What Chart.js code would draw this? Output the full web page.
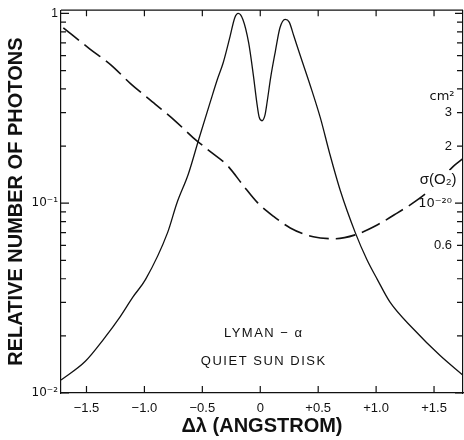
<!DOCTYPE html>
<html><head><meta charset="utf-8">
<script src="https://cdn.jsdelivr.net/npm/chart.js@4/dist/chart.umd.min.js"></script>
<style>html,body{margin:0;padding:0;background:#fff;}</style>
</head><body>
<canvas id="c" width="464" height="440"></canvas>
<script>
// Lyman-alpha line profile (relative number of photons) vs Δλ (Å)
const profileX = [-1.72,-1.51,-1.35,-1.21,-1.10,-0.99,-0.80,-0.72,-0.62,-0.53,-0.43,-0.37,-0.32,-0.26,-0.22,-0.19,-0.15,-0.10,-0.06,-0.03,-0.01,0.015,0.04,0.06,0.09,0.13,0.17,0.215,0.25,0.29,0.345,0.43,0.52,0.60,0.69,0.82,0.92,1.01,1.12,1.32,1.55,1.75];
const profileY = [0.0117,0.0147,0.0193,0.0252,0.032,0.0397,0.070,0.100,0.143,0.218,0.344,0.45,0.55,0.76,0.95,1.0,0.93,0.70,0.475,0.34,0.285,0.272,0.29,0.344,0.46,0.63,0.84,0.93,0.90,0.76,0.60,0.42,0.28,0.182,0.117,0.070,0.0505,0.0397,0.0301,0.0218,0.0158,0.0124];
// O2 absorption cross section, units of 1e-20 cm^2
const sigmaX = [-1.70,-1.47,-1.29,-1.12,-0.905,-0.733,-0.578,-0.431,-0.284,-0.147,-0.026,0.112,0.259,0.457,0.647,0.819,1.009,1.181,1.353,1.509,1.664,1.75];
const sigmaY = [8.4,6.49,5.36,4.27,3.32,2.71,2.21,1.87,1.58,1.24,1.01,0.855,0.741,0.665,0.650,0.681,0.768,0.887,1.037,1.24,1.56,1.72];
const xTickValues = [-1.5,-1.0,-0.5,0,0.5,1.0,1.5];
const xTickLabels = ['−1.5','−1.0','−0.5','0','+0.5','+1.0','+1.5'];
const leftTickValues = [0.01,0.1,1];
const leftTickLabels = ['10⁻²','10⁻¹','1'];
const rightTickValues = [0.6,1,2,3];
const rightTickLabels = ['0.6','10⁻²⁰','2','3'];

const INK = '#111';
const FONT = '"Liberation Sans", Arial, sans-serif';
const SUPFONT = '"DejaVu Sans", sans-serif';
function lookup(vals, labels, v){ for(let i=0;i<vals.length;i++){ if(Math.abs(vals[i]-v) < 1e-9) return labels[i]; } return ''; }
function hasSup(s){ return /[⁻⁰¹²³]/.test(s); }

const frame = {
  id: 'frame',
  afterDatasetsDraw(chart){
    const {ctx, scales} = chart;
    const x = scales.x, y = scales.y, y2 = scales.y2;
    ctx.save();
    ctx.fillStyle = INK;
    ctx.textAlign = 'center';
    ctx.textBaseline = 'middle';
    ctx.font = '13px ' + FONT;
    ctx.letterSpacing = '1.5px';
    ctx.fillText('LYMAN − α', x.getPixelForValue(0.03), y.getPixelForValue(0.0205));
    ctx.fillText('QUIET SUN DISK', x.getPixelForValue(0.03), y.getPixelForValue(0.0147));
    ctx.letterSpacing = '0px';
    // sigma label with white backing (line is broken behind it)
    ctx.font = '15px ' + FONT;
    const sx = x.getPixelForValue(1.535), sy = y2.getPixelForValue(1.32);
    const w = ctx.measureText('σ(O₂)').width;
    ctx.fillStyle = '#fff';
    ctx.fillRect(sx - w/2 - 2, sy - 10, w + 4, 20);
    ctx.fillStyle = INK;
    ctx.fillText('σ(O₂)', sx, sy);
    ctx.font = '13px ' + SUPFONT;
    ctx.fillText('cm²', x.getPixelForValue(1.569), y2.getPixelForValue(3.65));
    ctx.restore();
  },
  afterDraw(chart){
    const {ctx, chartArea: a, scales} = chart;
    ctx.save();
    ctx.strokeStyle = INK;
    ctx.lineWidth = 1.2;
    ctx.beginPath();
    ctx.moveTo(a.left, a.top); ctx.lineTo(a.right, a.top);
    xTickValues.forEach(v => {
      const px = scales.x.getPixelForValue(v);
      ctx.moveTo(px, a.bottom); ctx.lineTo(px, a.bottom - 7);
      ctx.moveTo(px, a.top); ctx.lineTo(px, a.top + 6);
    });
    [0.01, 0.1].forEach(d => {
      for (let k = 1; k <= 9; k++) {
        const py = scales.y.getPixelForValue(k * d);
        ctx.moveTo(a.left, py); ctx.lineTo(a.left + (k === 1 ? 8 : 5), py);
      }
    });
    const p1 = scales.y.getPixelForValue(1);
    ctx.moveTo(a.left, p1); ctx.lineTo(a.left + 8, p1);
    [0.1, 1].forEach(d => {
      for (let k = 1; k <= 9; k++) {
        const py = scales.y2.getPixelForValue(k * d);
        ctx.moveTo(a.right, py); ctx.lineTo(a.right - (k === 1 ? 8 : 6), py);
      }
    });
    const p10 = scales.y2.getPixelForValue(10);
    ctx.moveTo(a.right, p10); ctx.lineTo(a.right - 8, p10);
    ctx.stroke();
    ctx.restore();
  }
};

new Chart(document.getElementById('c'), {
  type: 'line',
  data: {
    datasets: [
      {
        label: 'Lyman-α profile',
        data: profileX.map((v, i) => ({x: v, y: profileY[i]})),
        yAxisID: 'y',
        borderColor: INK,
        borderWidth: 1.3,
        pointRadius: 0,
        fill: false,
        cubicInterpolationMode: 'monotone'
      },
      {
        label: 'σ(O₂)',
        data: sigmaX.map((v, i) => ({x: v, y: sigmaY[i]})),
        yAxisID: 'y2',
        borderColor: INK,
        borderWidth: 1.6,
        borderDash: [20, 7],
        pointRadius: 0,
        fill: false,
        cubicInterpolationMode: 'monotone'
      }
    ]
  },
  options: {
    responsive: false,
    animation: false,
    devicePixelRatio: 1,
    layout: {padding: {top: 8, right: 0, bottom: 0, left: 0}},
    plugins: {legend: {display: false}, tooltip: {enabled: false}},
    scales: {
      x: {
        type: 'linear',
        min: -1.72, max: 1.75,
        afterBuildTicks: s => { s.ticks = xTickValues.map(v => ({value: v})); },
        afterFit: s => { s.height = 47; },
        grid: {display: false, drawTicks: false},
        border: {display: true, color: INK, width: 1.2},
        ticks: {
          callback: v => lookup(xTickValues, xTickLabels, v),
          color: INK, font: {family: FONT, size: 13}, padding: 8,
          maxRotation: 0, autoSkip: false
        },
        title: {display: true, text: 'Δλ (ANGSTROM)', color: INK,
          font: {family: FONT, size: 20, weight: 'bold'}, padding: {top: 0, bottom: 2}}
      },
      y: {
        type: 'logarithmic',
        position: 'left',
        min: 0.01, max: 1.04,
        afterBuildTicks: s => { s.ticks = leftTickValues.map(v => ({value: v})); },
        afterFit: s => { s.width = 61; },
        grid: {display: false, drawTicks: false},
        border: {display: true, color: INK, width: 1.2},
        ticks: {
          callback: v => lookup(leftTickValues, leftTickLabels, v),
          color: INK,
          font: ctx => hasSup(lookup(leftTickValues, leftTickLabels, ctx.tick ? ctx.tick.value : NaN))
            ? {family: SUPFONT, size: 12} : {family: FONT, size: 12},
          padding: 3, autoSkip: false
        },
        title: {display: true, text: 'RELATIVE NUMBER OF PHOTONS', color: INK,
          font: {family: FONT, size: 20, weight: 'bold'}, padding: {top: 4, bottom: 0}}
      },
      y2: {
        type: 'logarithmic',
        position: 'right',
        min: 0.1, max: 10.4,
        afterBuildTicks: s => { s.ticks = rightTickValues.map(v => ({value: v})); },
        afterFit: s => { s.width = 1; },
        grid: {display: false, drawTicks: false},
        border: {display: true, color: INK, width: 1.2},
        ticks: {
          callback: v => lookup(rightTickValues, rightTickLabels, v),
          mirror: true,
          color: INK,
          font: ctx => hasSup(lookup(rightTickValues, rightTickLabels, ctx.tick ? ctx.tick.value : NaN))
            ? {family: SUPFONT, size: 13} : {family: FONT, size: 13},
          padding: -11, autoSkip: false
        }
      }
    }
  },
  plugins: [frame]
});
</script>
</body></html>
